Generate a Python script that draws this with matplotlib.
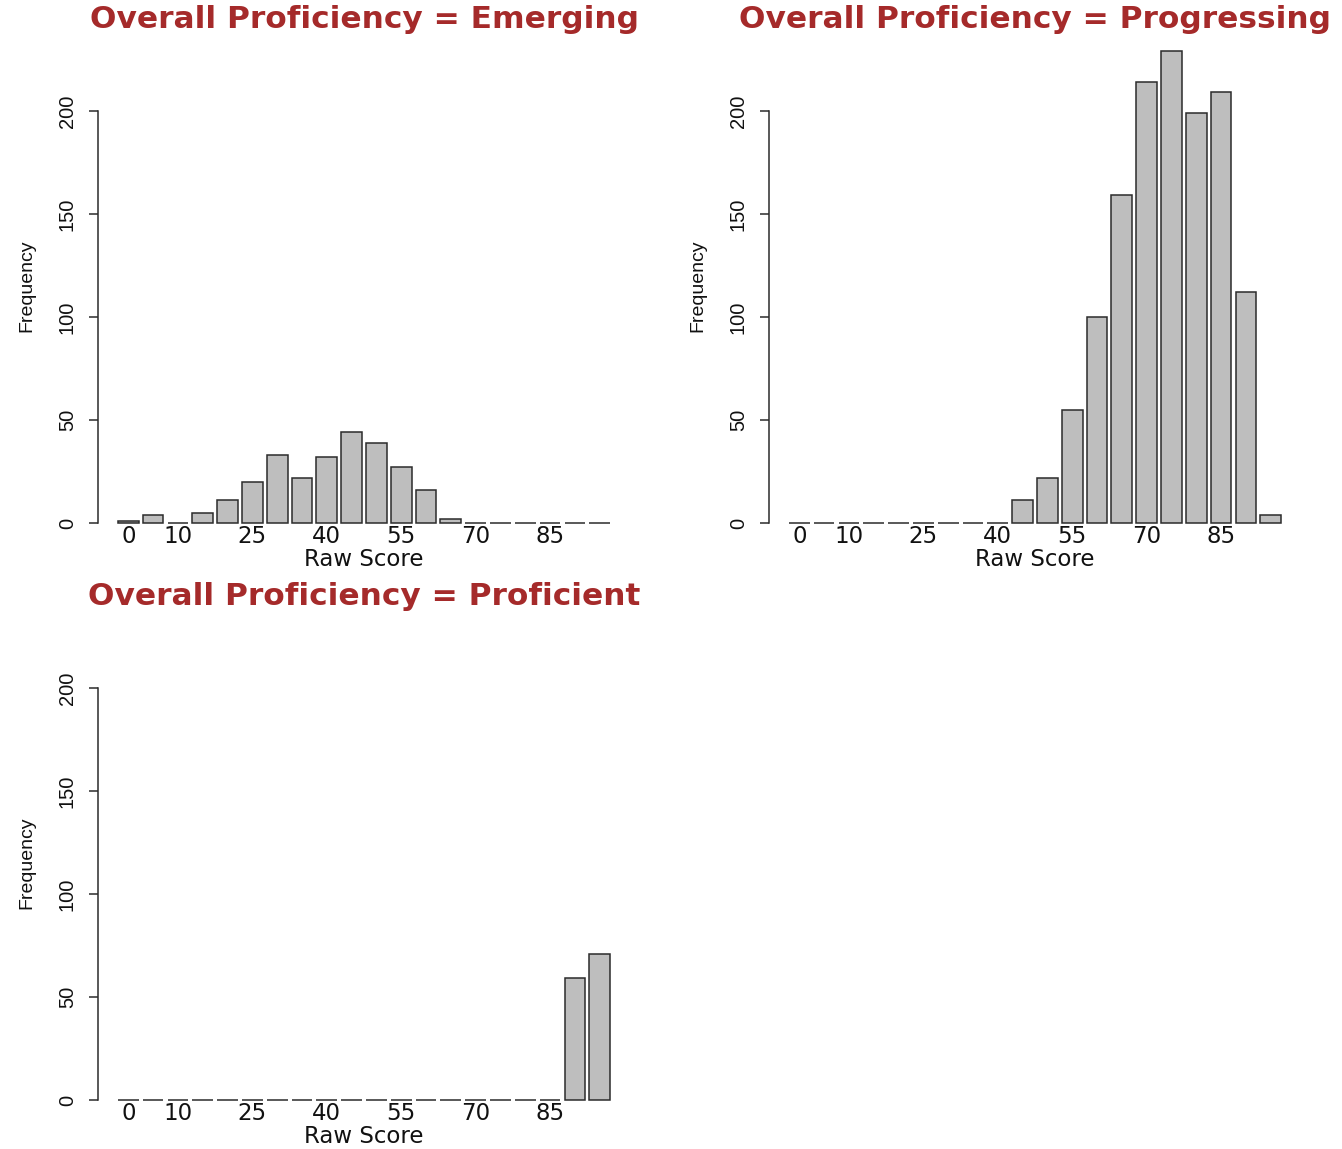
import numpy as np
import matplotlib
matplotlib.use("Agg")
import matplotlib.pyplot as plt
from matplotlib import font_manager

# ==========================================
# data (counts per 5-point score bin)
# ==========================================
score_bins = [0, 5, 10, 15, 20, 25, 30, 35, 40, 45, 50, 55, 60, 65, 70, 75, 80, 85, 90, 95]
emerging = [1, 4, 0, 5, 11, 20, 33, 22, 32, 44, 39, 27, 16, 2, 0, 0, 0, 0, 0, 0]
progressing = [0, 0, 0, 0, 0, 0, 0, 0, 0, 11, 22, 55, 100, 159, 214, 229, 199, 209, 112, 4]
proficient = [0, 0, 0, 0, 0, 0, 0, 0, 0, 0, 0, 0, 0, 0, 0, 0, 0, 0, 59, 71]
shown_labels = [0, 10, 25, 40, 55, 70, 85]
y_ticks = [0, 50, 100, 150, 200]
panel_titles = ["Overall Proficiency = Emerging",
                "Overall Proficiency = Progressing",
                "Overall Proficiency = Proficient"]

W, H = 1342, 1149
fig = plt.figure(figsize=(W / 100, H / 100), dpi=100)
fig.patch.set_facecolor("white")

title_col = "#A52A2A"
bar_fill = "#BEBEBE"
edge_col = "#2B2B2B"
txt_col = "#111111"

# narrow face for the y label if it is there
installed = {f.name for f in font_manager.fontManager.ttflist}
ylab_family = "Liberation Sans Narrow" if "Liberation Sans Narrow" in installed else "Liberation Sans"
ylab_size = 17 if ylab_family == "Liberation Sans Narrow" else 14

# R barplot geometry: width 1, space 0.2, ylim c(0, 230) with 4% padding
xpos = np.arange(len(score_bins)) * 1.2 + 0.7
x_lo, x_hi = 0.2 - 0.952, 24.0 + 0.952
y_lo, y_hi = -9.2, 239.2

# axes boxes in pixels: (left, top, right, bottom)
boxes = [(98.3, 30.2, 629.7, 542.0),
         (769.3, 30.2, 1300.7, 542.0),
         (98.3, 607.2, 629.7, 1119.0)]


def draw_panel(box, counts, title):
    l, t, r, b = box
    ax = fig.add_axes([l / W, 1 - b / H, (r - l) / W, (b - t) / H])
    ax.bar(xpos, counts, width=1.0, color=bar_fill, edgecolor=edge_col,
           linewidth=1.1, clip_on=False, zorder=3)
    ax.set_xlim(x_lo, x_hi)
    ax.set_ylim(y_lo, y_hi)
    for s in ["top", "right", "bottom"]:
        ax.spines[s].set_visible(False)
    ax.spines["left"].set_bounds(0, 200)
    ax.spines["left"].set_color(edge_col)
    ax.spines["left"].set_linewidth(1.1)
    ax.set_xticks([])
    ax.set_yticks(y_ticks)
    ax.set_yticklabels([str(v) for v in y_ticks], rotation=90, va="center",
                       fontsize=14.5, family="Liberation Sans", color=txt_col)
    ax.tick_params(axis="y", length=6.5, width=1.1, color=edge_col, pad=9)

    # x labels (R drops overlapping names, keep the ones that show)
    for v in shown_labels:
        i = score_bins.index(v)
        ax.text(xpos[i], 0.0098, str(v), transform=ax.get_xaxis_transform(),
                ha="center", va="center", fontsize=16.5, family="DejaVu Sans",
                color=txt_col)
    ax.text(0.5, -0.035, "Raw Score", transform=ax.transAxes, ha="center",
            va="center", fontsize=16.5, family="DejaVu Sans", color=txt_col)
    ax.text(-0.135, 0.5, "Frequency", transform=ax.transAxes, rotation=90,
            ha="center", va="center", fontsize=ylab_size, family=ylab_family,
            color=txt_col)
    ax.text(0.5, 1 + 11 / (b - t), title, transform=ax.transAxes,
            ha="center", va="center", fontsize=22.5, fontweight="bold",
            family="DejaVu Sans", color=title_col)
    return ax


draw_panel(boxes[0], emerging, panel_titles[0])
draw_panel(boxes[1], progressing, panel_titles[1])
draw_panel(boxes[2], proficient, panel_titles[2])

fig.savefig("out.png", dpi=100, facecolor="white")
